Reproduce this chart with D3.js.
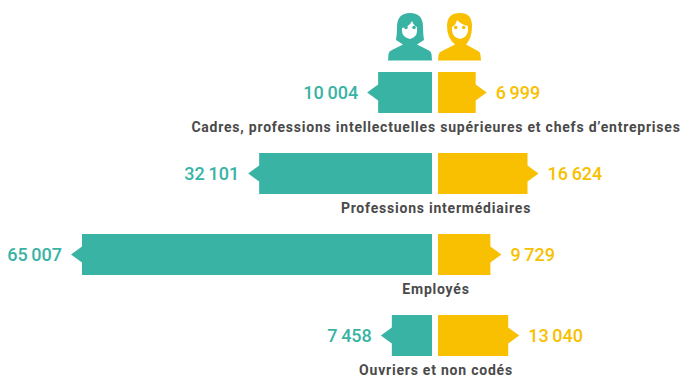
<!DOCTYPE html>
<html>
<head>
<meta charset="utf-8">
<script src="https://cdnjs.cloudflare.com/ajax/libs/d3/7.8.5/d3.min.js"></script>
<style>
    html, body { margin: 0; padding: 0; background: #fff; }
    svg { display: block; }
    text { font-family: Roboto, sans-serif; }
</style>
</head>
<body>
<svg id="chart" width="683" height="378"></svg>
<script>
// Values
const categories = [
    "Cadres, professions intellectuelles supérieures et chefs d’entreprises",
    "Professions intermédiaires",
    "Employés",
    "Ouvriers et non codés"
];
const femmes = [10004, 32101, 65007, 7458];
const hommes = [6999, 16624, 9729, 13040];
const femmesLabels = ["10\u2009004", "32\u2009101", "65\u2009007", "7\u2009458"];
const hommesLabels = ["6\u2009999", "16\u2009624", "9\u2009729", "13\u2009040"];

const teal = "#39b3a4";
const yellow = "#f8c000";
const grey = "#4a4a4a";

const svg = d3.select("#chart");

// Same scale on both sides, only the origin changes
const widthScale = d3.scaleLinear().domain([0, 65007]).range([0, 350]);
const leftOrigin = 432;
const rightOrigin = 438;
const labelCenter = 436;

const y = d3.scaleBand()
    .domain(categories)
    .range([72, 396])
    .paddingInner(0)
    .paddingOuter(0);
const barHeight = 41;
const tip = 11;
const tipHalf = 8;

const rows = svg.selectAll(".row")
    .data(categories)
    .enter().append("g")
    .attr("class", "row")
    .attr("transform", d => `translate(0,${y(d)})`);

// Women bars with the small arrow on the outer side
rows.append("path")
    .attr("fill", teal)
    .attr("d", (d, i) => {
        let x0 = leftOrigin - widthScale(femmes[i]);
        return `M${leftOrigin},0H${x0}V${barHeight / 2 - tipHalf}L${x0 - tip},${barHeight / 2}L${x0},${barHeight / 2 + tipHalf}V${barHeight}H${leftOrigin}Z`;
    });

// Men bars
rows.append("path")
    .attr("fill", yellow)
    .attr("d", (d, i) => {
        let x1 = rightOrigin + widthScale(hommes[i]);
        return `M${rightOrigin},0H${x1}V${barHeight / 2 - tipHalf}L${x1 + tip},${barHeight / 2}L${x1},${barHeight / 2 + tipHalf}V${barHeight}H${rightOrigin}Z`;
    });

rows.append("text")
    .attr("x", (d, i) => leftOrigin - widthScale(femmes[i]) - 20)
    .attr("y", 26.5)
    .attr("text-anchor", "end")
    .attr("fill", teal)
    .style("font-size", "18px")
    .style("font-weight", 500)
    .text((d, i) => femmesLabels[i]);

rows.append("text")
    .attr("x", (d, i) => rightOrigin + widthScale(hommes[i]) + 20)
    .attr("y", 26.5)
    .attr("fill", yellow)
    .style("font-size", "18px")
    .style("font-weight", 500)
    .text((d, i) => hommesLabels[i]);

rows.append("text")
    .attr("x", labelCenter)
    .attr("y", 60)
    .attr("text-anchor", "middle")
    .attr("fill", grey)
    .style("font-size", "14px")
    .style("font-weight", 700)
    .style("letter-spacing", "0.78px")
    .text(d => d);

// Woman icon
const woman = svg.append("g").attr("fill", teal);
woman.append("path").attr("d", "M388,60.5L388.5,54Q389,51 392,50L403,44.5L396,40Q397,34 397,27Q397,13 410,13Q423,13 423,27Q423,34 424,40L417,44.5L428,50Q431,51 431.5,54L432,60.5Z");
woman.append("path").attr("fill", "#fff").attr("d", "M402,28Q409,27 412,21Q414,26 417,27V31Q417,37 410,39Q402,37 402,31Z");
woman.append("circle").attr("cx", 406).attr("cy", 27.5).attr("r", 1.8);
woman.append("circle").attr("cx", 414).attr("cy", 27.5).attr("r", 1.8);

// Man icon
const man = svg.append("g").attr("fill", yellow);
man.append("path").attr("d", "M438,60.5L438.5,55Q439,52 442,51L455,44.5Q447,38 447,26Q447,13 460,13Q472,13 472,26Q472,38 466,44.5L478,51Q480.5,52 480.5,55L481,60.5Z");
man.append("path").attr("fill", "#fff").attr("d", "M452,27Q456,25 457,20Q462,25 468,26V30Q468,37 460,39Q452,37 452,30Z");
man.append("circle").attr("cx", 455.7).attr("cy", 27.5).attr("r", 1.8);
man.append("circle").attr("cx", 463.7).attr("cy", 27.5).attr("r", 1.8);
</script>
</body>
</html>
